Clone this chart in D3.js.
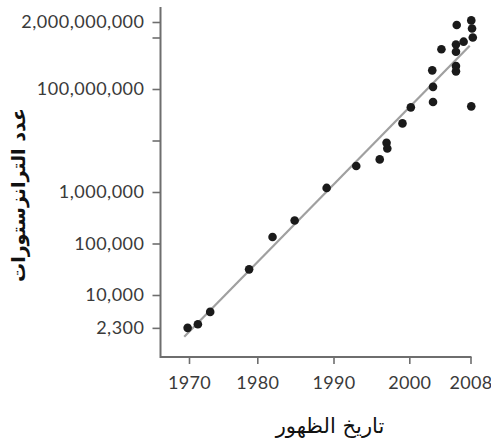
<!DOCTYPE html>
<html><head><meta charset="utf-8">
<script src="https://cdn.jsdelivr.net/npm/d3@7"></script>
<style>
html,body{margin:0;padding:0;background:#fff;}
svg{display:block;}
</style></head>
<body>
<svg id="chart" width="491" height="442"></svg>
<script>
// ---- data ----
const years = [1969.8, 1971.3, 1973.1, 1978.8, 1982.0, 1984.9, 1989.1, 1993.0, 1996.1, 1997.0, 1997.1, 1999.1, 2000.2, 2003.1, 2003.1, 2003.0, 2004.2, 2006.1, 2006.1, 2006.1, 2006.1, 2006.2, 2007.1, 2008.1, 2008.2, 2008.3, 2008.1];
const transistors = [2300, 2700, 4700, 31500, 134000, 280000, 1200000, 3200000, 4300000, 9000000, 7000000, 21500000, 44000000, 56000000, 110000000, 230000000, 590000000, 220000000, 280000000, 530000000, 730000000, 1750000000, 830000000, 2150000000, 1500000000, 1000000000, 46000000];
const trendYears = [1969.3, 2007.9];
const trendCounts = [1550, 693000000];
const xTickValues = [1970, 1980, 1990, 2000, 2008];
const xTickLabels = ["1970", "1980", "1990", "2000", "2008"];
const yTickValues = [2300, 1e4, 1e5, 1e6, 1e7, 1e8, 1e9, 2e9];
const yTickLabels = ["2,300", "10,000", "100,000", "1,000,000", "", "100,000,000", "", "2,000,000,000"];
const xTitle = "تاريخ الظهور";
const yTitle = "عدد الترانزستورات";

// ---- scales ----
const svg = d3.select("#chart");
const x = d3.scaleLinear().domain(xTickValues).range([189, 257.3, 333.5, 409.3, 470.5]);
const y = d3.scaleLog().domain([1e4, 1e9]).range([295, 37.5]);

const axisColor = "#6e6e6e";
const textColor = "#3a3a3a";
const numFont = "Lato, 'Open Sans', sans-serif";

// x axis
const xAxis = d3.axisBottom(x).tickValues(xTickValues)
  .tickFormat((d, i) => xTickLabels[i]).tickSize(7).tickSizeOuter(0).tickPadding(12);
const gx = svg.append("g").attr("transform", "translate(0,357)").call(xAxis);
gx.select(".domain").remove();
gx.append("line").attr("x1", 160).attr("x2", 471.5).attr("y1", 0).attr("y2", 0)
  .attr("stroke", axisColor).attr("stroke-width", 2);
gx.selectAll(".tick line").attr("stroke", axisColor).attr("stroke-width", 1.6);
gx.selectAll(".tick text").attr("fill", textColor).style("font-family", numFont)
  .style("font-size", "18px").style("letter-spacing", "0.3px");

// y axis
const yAxis = d3.axisLeft(y).tickValues(yTickValues)
  .tickFormat((d, i) => yTickLabels[i]).tickSize(8).tickSizeOuter(0).tickPadding(8);
const gy = svg.append("g").attr("transform", "translate(160.5,0)").call(yAxis);
gy.select(".domain").remove();
gy.append("line").attr("x1", 0).attr("x2", 0).attr("y1", 7).attr("y2", 358)
  .attr("stroke", axisColor).attr("stroke-width", 2);
gy.selectAll(".tick line").attr("stroke", axisColor).attr("stroke-width", 1.6);
gy.selectAll(".tick text").attr("fill", textColor).style("font-family", numFont)
  .style("font-size", "18px").style("letter-spacing", "0.5px");

// trend line
const trend = trendYears.map((yr, i) => [yr, trendCounts[i]]);
svg.append("path").datum(trend)
  .attr("d", d3.line().x(d => x(d[0])).y(d => y(d[1])))
  .attr("stroke", "#a0a0a0").attr("stroke-width", 2.2).attr("fill", "none");

// points
svg.append("g").selectAll("circle").data(years.map((yr, i) => [yr, transistors[i]]))
  .join("circle")
  .attr("cx", d => x(d[0])).attr("cy", d => y(d[1])).attr("r", 4.3)
  .attr("fill", "#1a1a1a");

// titles
svg.append("text").attr("x", 330).attr("y", 433).attr("text-anchor", "middle")
  .style("font-family", "'DejaVu Sans', sans-serif").style("font-size", "21px")
  .attr("fill", "#111").text(xTitle);
svg.append("text").attr("transform", "translate(25,195) rotate(-90)").attr("text-anchor", "middle")
  .style("font-family", "'DejaVu Sans', sans-serif").style("font-size", "19px").style("font-weight", "bold")
  .attr("fill", "#111").text(yTitle);
</script>
</body></html>
